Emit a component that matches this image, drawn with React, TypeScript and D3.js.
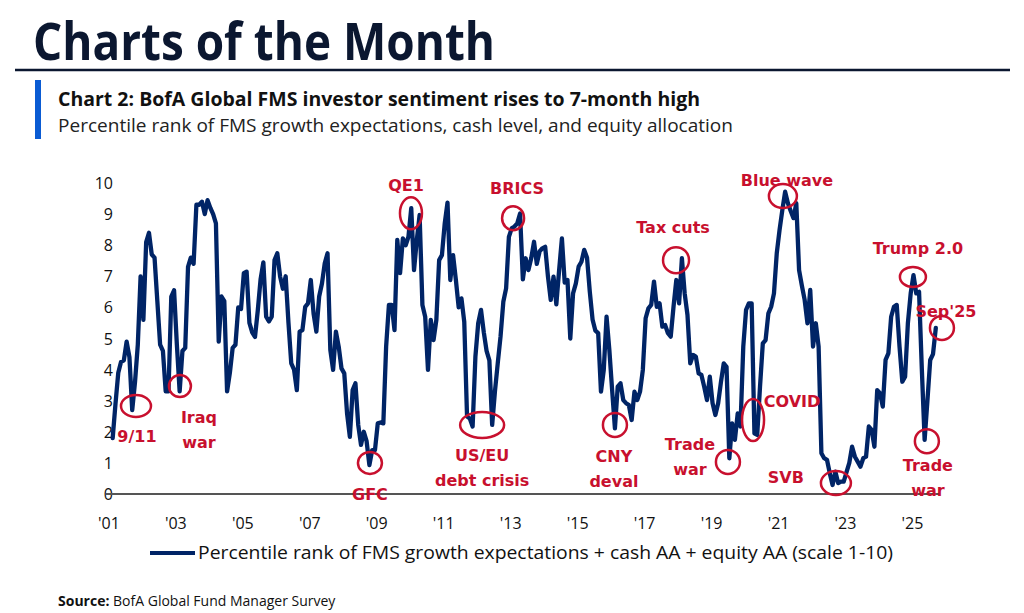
import React from 'react';
import * as d3 from 'd3';

// Monthly values (scale 0-10). 2001 starts in February.
const v2001 = [1.8, 2.9, 3.9, 4.25, 4.3, 4.9, 4.4, 2.7, 3.6, 4.8, 7.0];
const v2002 = [5.6, 8.1, 8.4, 7.7, 7.6, 6.2, 4.8, 4.6, 3.3, 3.3, 6.35, 6.55];
const v2003 = [4.8, 3.3, 4.6, 4.7, 7.3, 7.6, 7.4, 9.3, 9.3, 9.4, 9.0, 9.45];
const v2004 = [9.2, 9.0, 8.7, 4.9, 6.35, 6.2, 3.3, 3.9, 4.7, 4.8, 6.0, 5.95];
const v2005 = [7.1, 7.15, 5.5, 5.2, 5.05, 5.9, 6.9, 7.45, 5.7, 5.55, 5.7, 7.52];
const v2006 = [7.74, 6.99, 6.6, 7.0, 5.5, 4.2, 4.0, 3.34, 5.22, 5.27, 6.02, 6.13];
const v2007 = [6.88, 5.8, 5.22, 6.35, 6.77, 7.42, 7.74, 4.63, 3.99, 5.22, 4.74, 4.04];
const v2008 = [3.88, 2.59, 1.84, 3.34, 3.56, 2.22, 1.58, 2.0, 1.7, 0.93, 1.41, 1.41];
const v2009 = [2.27, 2.3, 2.27, 4.74, 6.08, 6.08, 5.27, 8.17, 7.1, 8.22, 8.0, 8.27];
const v2010 = [9.19, 7.2, 8.17, 8.97, 6.08, 5.7, 3.99, 5.6, 4.95, 5.6, 7.52, 7.68];
const v2011 = [8.7, 9.37, 6.88, 7.68, 6.88, 6.0, 6.29, 5.54, 2.49, 2.43, 2.17, 4.42];
const v2012 = [5.49, 5.92, 5.2, 4.6, 4.3, 2.22, 3.3, 4.2, 5.06, 6.18, 6.61, 8.27];
const v2013 = [8.54, 8.6, 8.7, 9.02, 6.9, 7.58, 7.2, 7.58, 8.11, 7.4, 7.8, 7.9];
const v2014 = [7.95, 6.99, 6.24, 6.99, 6.1, 7.2, 8.22, 6.8, 6.88, 5.0, 6.45, 6.77];
const v2015 = [7.31, 7.47, 7.85, 7.6, 6.5, 5.6, 5.25, 5.17, 3.29, 3.99, 5.7, 4.63];
const v2016 = [3.34, 2.11, 3.45, 3.56, 3.02, 2.92, 2.86, 2.38, 3.29, 3.02, 3.29, 3.99];
const v2017 = [5.65, 5.97, 6.08, 6.83, 6.02, 6.13, 5.38, 5.43, 5.17, 5.06, 6.02, 6.88];
const v2018 = [6.13, 7.58, 6.45, 5.76, 4.2, 4.47, 4.42, 3.88, 3.83, 3.45, 3.02, 3.77];
const v2019 = [2.92, 2.54, 2.92, 3.6, 4.2, 4.09, 1.15, 2.27, 1.74, 2.59, 2.17, 4.74];
const v2020 = [5.92, 6.13, 6.13, 1.95, 1.9, 3.45, 4.84, 4.95, 5.81, 6.02, 6.45, 7.74];
const v2021 = [8.49, 9.13, 9.72, 9.35, 9.1, 8.87, 9.35, 7.2, 6.7, 6.24, 5.49, 6.56];
const v2022 = [4.74, 5.49, 4.74, 1.31, 1.15, 1.1, 0.67, 0.29, 0.72, 0.35, 0.4, 0.4];
const v2023 = [0.7, 1.0, 1.52, 1.2, 1.04, 0.88, 1.15, 1.2, 2.17, 2.06, 1.52, 3.34];
const v2024 = [3.24, 2.81, 4.31, 4.52, 5.7, 6.02, 6.08, 4.74, 3.61, 3.77, 5.5, 6.45];
const v2025 = [7.04, 6.45, 6.5, 4.0, 1.74, 3.0, 4.31, 4.5, 5.34];

const yearRows: [number, number, number[]][] = [
  [2001, 1, v2001], [2002, 0, v2002], [2003, 0, v2003], [2004, 0, v2004], [2005, 0, v2005],
  [2006, 0, v2006], [2007, 0, v2007], [2008, 0, v2008], [2009, 0, v2009], [2010, 0, v2010],
  [2011, 0, v2011], [2012, 0, v2012], [2013, 0, v2013], [2014, 0, v2014], [2015, 0, v2015],
  [2016, 0, v2016], [2017, 0, v2017], [2018, 0, v2018], [2019, 0, v2019], [2020, 0, v2020],
  [2021, 0, v2021], [2022, 0, v2022], [2023, 0, v2023], [2024, 0, v2024], [2025, 0, v2025],
];

const xTickYears = [2001, 2003, 2005, 2007, 2009, 2011, 2013, 2015, 2017, 2019, 2021, 2023, 2025];
const yTicks = [0, 1, 2, 3, 4, 5, 6, 7, 8, 9, 10];

// Annotations: month index (months since Jan 2001), value, circle radii, label offsets
const annotations = [
  { lines: ['9/11'], m: 9.35, v: 2.83, rx: 15, ry: 11, dx: 1, dy: 36 },
  { lines: ['Iraq', 'war'], m: 25.1, v: 3.47, rx: 11, ry: 11, dx: 19, dy: 37 },
  { lines: ['GFC'], m: 93.2, v: 1.0, rx: 12, ry: 11, dx: 0, dy: 37 },
  { lines: ['QE1'], m: 107.9, v: 9.03, rx: 11, ry: 16, dx: -5, dy: -22 },
  { lines: ['US/EU', 'debt crisis'], m: 133.4, v: 2.22, rx: 22, ry: 13, dx: 0, dy: 36 },
  { lines: ['BRICS'], m: 144.5, v: 8.87, rx: 11, ry: 12, dx: 4, dy: -24 },
  { lines: ['CNY', 'deval'], m: 181, v: 2.22, rx: 12, ry: 12, dx: -1, dy: 37 },
  { lines: ['Tax cuts'], m: 202.9, v: 7.52, rx: 13, ry: 13, dx: -3, dy: -27 },
  { lines: ['Trade', 'war'], m: 221.5, v: 1.03, rx: 12, ry: 12, dx: -38, dy: -12 },
  { lines: ['COVID'], m: 230.5, v: 2.38, rx: 11, ry: 21, dx: 39, dy: -13 },
  { lines: ['Blue wave'], m: 241.2, v: 9.58, rx: 14, ry: 12, dx: 4, dy: -10 },
  { lines: ['SVB'], m: 260.2, v: 0.35, rx: 15, ry: 12, dx: -50, dy: 0 },
  { lines: ['Trump 2.0'], m: 287.8, v: 6.98, rx: 13, ry: 10, dx: 5, dy: -23 },
  { lines: ["Sep'25"], m: 298.2, v: 5.34, rx: 12, ry: 12, dx: 4, dy: -11 },
  { lines: ['Trade', 'war'], m: 292.8, v: 1.7, rx: 12, ry: 12, dx: 1, dy: 30 },
];

const NAVY = '#002466';
const RED = '#c8102e';
const TEXT = '#111111';

export default function App() {
  const W = 1024;
  const H = 613;
  const x = d3.scaleLinear().domain([0, 296]).range([109.9, 935.8]);
  const y = d3.scaleLinear().domain([0, 10]).range([494, 183]);

  const points: { m: number; v: number }[] = [];
  yearRows.forEach(([yr, start, vals]) => {
    vals.forEach((v, i) => points.push({ m: (yr - 2001) * 12 + start + i, v }));
  });

  const line = d3
    .line<{ m: number; v: number }>()
    .x((d) => x(d.m))
    .y((d) => y(d.v));

  const sans = "'Open Sans', 'Liberation Sans', sans-serif";
  const narrow = "'Liberation Sans Narrow', 'Open Sans', sans-serif";
  const annFont = "'DejaVu Sans', 'Open Sans', sans-serif";

  return (
    <svg
      width={W}
      height={H}
      viewBox={`0 0 ${W} ${H}`}
      style={{ position: 'absolute', left: 0, top: 0, background: '#fff' }}
    >
      <rect x={0} y={0} width={W} height={H} fill="#fff" />
      {/* Header */}
      <text x={33} y={60} fontFamily={narrow} fontWeight={700} fontSize={52} fill="#0b1730"
        textLength={462} lengthAdjust="spacingAndGlyphs">Charts of the Month</text>
      <line x1={15} x2={1010} y1={70} y2={70} stroke="#0b1730" strokeWidth={2.5} />
      <rect x={35} y={80} width={6} height={59} fill="#0a5bd3" />
      <text x={58} y={106} fontFamily={sans} fontWeight={700} fontSize={19} fill={TEXT}
        textLength={642} lengthAdjust="spacingAndGlyphs">
        Chart 2: BofA Global FMS investor sentiment rises to 7-month high
      </text>
      <text x={58} y={132} fontFamily={sans} fontSize={18} fill="#222"
        textLength={675} lengthAdjust="spacingAndGlyphs">
        Percentile rank of FMS growth expectations, cash level, and equity allocation
      </text>

      {/* Y axis labels */}
      {yTicks.map((t) => (
        <text key={t} x={113} y={y(t) + 6} textAnchor="end" fontFamily={sans} fontSize={16} fill={TEXT}>
          {t}
        </text>
      ))}

      {/* X axis */}
      <line x1={106} x2={940} y1={y(0)} y2={y(0)} stroke="#555" strokeWidth={2} />
      {xTickYears.map((yr) => (
        <text key={yr} x={x((yr - 2001) * 12) - 1} y={529} textAnchor="middle" fontFamily={sans} fontSize={16} fill={TEXT}>
          {"'" + String(yr).slice(2)}
        </text>
      ))}

      {/* Series */}
      <path d={line(points) || ''} fill="none" stroke={NAVY} strokeWidth={4.3} strokeLinejoin="round" strokeLinecap="round" />

      {/* Annotations */}
      {annotations.map((a, i) => {
        const cx = x(a.m);
        const cy = y(a.v);
        return (
          <g key={i}>
            <ellipse cx={cx} cy={cy} rx={a.rx} ry={a.ry} fill="none" stroke={RED} strokeWidth={2.5} />
            {a.lines.map((ln, j) => (
              <text key={j} x={cx + a.dx} y={cy + a.dy + j * 25} textAnchor="middle" fontFamily={annFont}
                fontWeight={700} fontSize={16} fill={RED}>
                {ln}
              </text>
            ))}
          </g>
        );
      })}

      {/* Legend */}
      <line x1={150} x2={195} y1={553} y2={553} stroke={NAVY} strokeWidth={4} />
      <text x={198} y={559} fontFamily={sans} fontSize={18} fill={TEXT} textLength={695} lengthAdjust="spacingAndGlyphs">
        Percentile rank of FMS growth expectations + cash AA + equity AA (scale 1-10)
      </text>

      {/* Source */}
      <text x={58} y={606} fontFamily={sans} fontSize={14} fill={TEXT}>
        <tspan fontWeight={700}>Source:</tspan>
        <tspan> BofA Global Fund Manager Survey</tspan>
      </text>
    </svg>
  );
}
